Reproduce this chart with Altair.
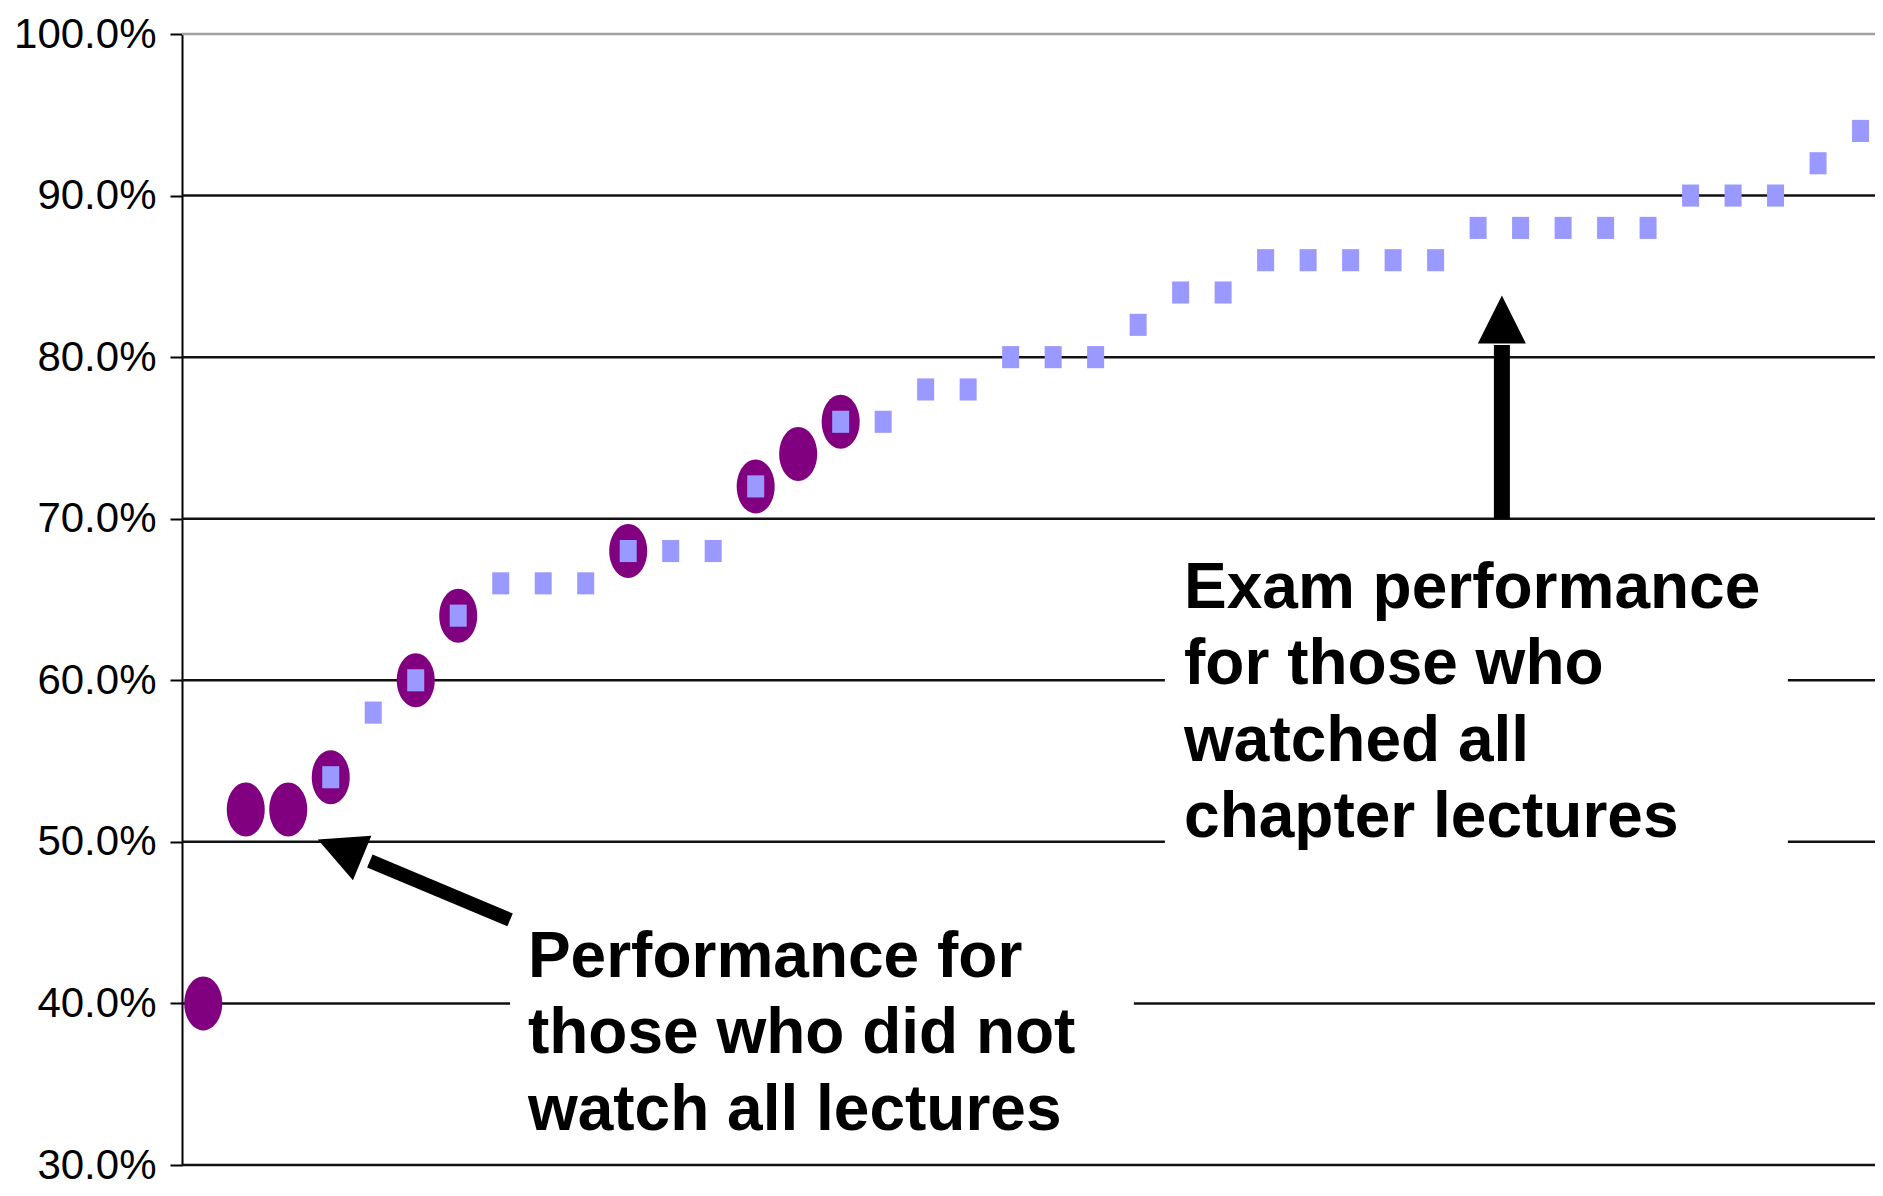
import altair as alt
import pandas as pd

# ---- data ----
x_not_all = [1, 2, 3, 4, 6, 7, 11, 14, 15, 16]
y_not_all = [40, 52, 52, 54, 60, 64, 68, 72, 74, 76]

x_all = [4, 5, 6, 7, 8, 9, 10, 11, 12, 13, 14,
         16, 17, 18, 19, 20, 21, 22, 23, 24, 25, 26, 27, 28, 29, 30,
         31, 32, 33, 34, 35, 36, 37, 38, 39, 40]
y_all = [54, 58, 60, 64, 66, 66, 66, 68, 68, 68, 72,
         76, 76, 78, 78, 80, 80, 80, 82, 84, 84, 86, 86, 86, 86, 86,
         88, 88, 88, 88, 88, 90, 90, 90, 92, 94]

tick_values = [30, 40, 50, 60, 70, 80, 90, 100]

text_all = "Exam performance\nfor those who\nwatched all\nchapter lectures"
text_not = "Performance for\nthose who did not\nwatch all lectures"

# ---- scales ----
xs = alt.Scale(domain=[0.5, 40.34], nice=False, zero=False)
ys = alt.Scale(domain=[30, 100], nice=False, zero=False)

yaxis = alt.Axis(
    values=tick_values,
    labelExpr="format(datum.value, '.1f') + '%'",
    labelFont="Liberation Sans, Arial, sans-serif",
    labelFontSize=42,
    labelColor="black",
    labelPadding=14,
    labelLimit=400,
    labelOverlap=False,
    labelFlush=False,
    tickSize=12,
    tickColor="black",
    tickWidth=2,
    domainColor="black",
    domainWidth=2,
    grid=False,
    title=None,
)

grid_df = pd.DataFrame({
    "v": tick_values,
    "c": ["#111111"] * 7 + ["#a0a0a0"],
})

grid = alt.Chart(grid_df).mark_rule(strokeWidth=2.5).encode(
    y=alt.Y("v:Q", scale=ys, axis=yaxis),
    color=alt.Color("c:N", scale=None),
)

boxes_df = pd.DataFrame({
    "x1": [23.63, 8.22],
    "x2": [38.29, 22.9],
    "y1": [42.0, 31.5],
    "y2": [68.5, 48.0],
})
boxes = alt.Chart(boxes_df).mark_rect(color="white", opacity=1).encode(
    x=alt.X("x1:Q", scale=xs, axis=None),
    x2="x2:Q",
    y=alt.Y("y1:Q", scale=ys, axis=yaxis),
    y2="y2:Q",
)

ellipse = ("M0,-1.42C0.5523,-1.42 1,-0.7843 1,0C1,0.7843 0.5523,1.42 0,1.42"
           "C-0.5523,1.42 -1,0.7843 -1,0C-1,-0.7843 -0.5523,-1.42 0,-1.42Z")
rect_shape = "M-1,-1.3L1,-1.3L1,1.3L-1,1.3Z"
tri_shape = "M0,-1L1,1L-1,1Z"

not_df = pd.DataFrame({"x": x_not_all, "y": y_not_all})
all_df = pd.DataFrame({"x": x_all, "y": y_all})

circles = alt.Chart(not_df).mark_point(
    shape=ellipse, filled=True, size=1444, color="#800080", opacity=1, strokeWidth=0
).encode(
    x=alt.X("x:Q", scale=xs, axis=None),
    y=alt.Y("y:Q", scale=ys, axis=yaxis),
)

squares = alt.Chart(all_df).mark_point(
    shape=rect_shape, filled=True, size=289, color="#9999FF", opacity=1, strokeWidth=0
).encode(
    x=alt.X("x:Q", scale=xs, axis=None),
    y=alt.Y("y:Q", scale=ys, axis=yaxis),
)

texts_df = pd.DataFrame({
    "x": [24.08, 8.64],
    "y": [64.48, 41.65],
    "t": [text_all, text_not],
})
texts = alt.Chart(texts_df).mark_text(
    align="left", baseline="alphabetic", font="Liberation Sans, Arial, sans-serif",
    fontWeight="bold", fontSize=64, lineHeight=76.5, lineBreak="\n", color="black"
).encode(
    x=alt.X("x:Q", scale=xs, axis=None),
    y=alt.Y("y:Q", scale=ys, axis=yaxis),
    text="t:N",
)

shafts_df = pd.DataFrame({
    "x": [31.56, 8.22],
    "y": [70.0, 45.17],
    "x2": [31.56, 4.92],
    "y2": [80.75, 48.82],
    "w": [16, 14],
})
shafts = alt.Chart(shafts_df).mark_rule(color="black", strokeCap="butt").encode(
    x=alt.X("x:Q", scale=xs, axis=None),
    y=alt.Y("y:Q", scale=ys, axis=yaxis),
    x2="x2:Q",
    y2="y2:Q",
    strokeWidth=alt.StrokeWidth("w:Q", scale=None),
)

head_up = alt.Chart(pd.DataFrame({"x": [31.56], "y": [82.33]})).mark_point(
    shape=tri_shape, filled=True, size=2304, color="black", opacity=1, strokeWidth=0
).encode(
    x=alt.X("x:Q", scale=xs, axis=None),
    y=alt.Y("y:Q", scale=ys, axis=yaxis),
)
head_left = alt.Chart(pd.DataFrame({"x": [4.218], "y": [49.57]})).mark_point(
    shape=tri_shape, filled=True, size=2304, color="black", opacity=1, strokeWidth=0,
    angle=292.6
).encode(
    x=alt.X("x:Q", scale=xs, axis=None),
    y=alt.Y("y:Q", scale=ys, axis=yaxis),
)

chart = alt.layer(grid, boxes, circles, squares, texts, shafts, head_up, head_left).properties(
    width=1693,
    height=1131,
    padding={"left": 174, "top": 26, "right": 0, "bottom": 30},
    autosize=alt.AutoSizeParams(type="none"),
    background="white",
).configure_view(stroke=None)

chart.save("out.html", embed_options={"renderer": "svg", "actions": False})
